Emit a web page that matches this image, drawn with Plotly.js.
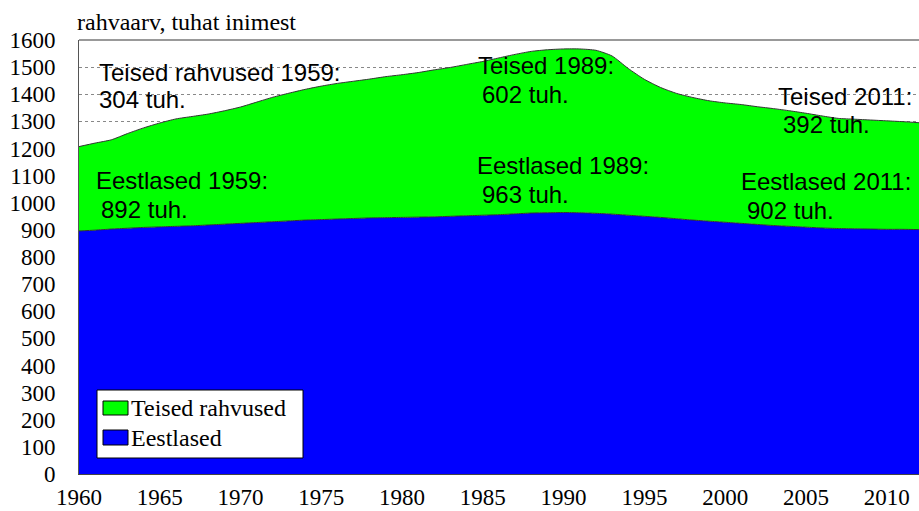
<!DOCTYPE html>
<html>
<head>
<meta charset="utf-8">
<script src="https://cdn.plot.ly/plotly-3.0.1.min.js"></script>
<style>html,body{margin:0;padding:0;background:#fff;}#chart{width:919px;height:511px;}</style>
</head>
<body>
<div id="chart"></div>
<script>
var years = [1960,1961,1962,1963,1964,1965,1966,1967,1968,1969,1970,1971,1972,1973,1974,1975,1976,1977,1978,1979,1980,1981,1982,1983,1984,1985,1986,1987,1988,1989,1990,1991,1992,1993,1994,1995,1996,1997,1998,1999,2000,2001,2002,2003,2004,2005,2006,2007,2008,2009,2010,2011,2012];
var eestlased = [896,899,903,906,909,911,913,915,918,921,924,927,930,933,936,938,940,942,944,945,946,947,948,950,952,954,956,959,962,963,964,963,961,958,954,950,946,941,936,932,928,924,920,916,913,910,907,905,904,903,902,902,901];
var teised = [311,321,329,349,367,383,396,403,409,418,429,444,459,471,482,492,500,506,512,520,526,533,542,549,558,567,578,588,596,601,603,604,601,583,541,505,479,462,452,444,440,438,434,431,426,420,413,406,404,402,400,397,394];
var xTicks = [1960,1965,1970,1975,1980,1985,1990,1995,2000,2005,2010];
var seriesNames = ["Eestlased", "Teised rahvused"];
var yTitle = "rahvaarv, tuhat inimest";
var notes = [
  ["Teised rahvused 1959:", 97, 72],
  ["304 tuh.", 97, 100],
  ["Eestlased 1959:", 94, 180.5],
  ["892 tuh.", 99, 209.5],
  ["Teised 1989:", 476, 65],
  ["602 tuh.", 480, 95],
  ["Eestlased 1989:", 475, 165],
  ["963 tuh.", 480, 194],
  ["Teised 2011:", 776, 96.5],
  ["392 tuh.", 781, 124.5],
  ["Eestlased 2011:", 739, 181],
  ["902 tuh.", 745, 210]
];

var L = 79, T = 40, W = 840, H = 434;
function px(x){ return (x - L) / W; }
function py(y){ return (T + H - y) / H; }

var serif = "Liberation Serif, Times New Roman, serif";
var sans = "Liberation Sans, Arial, sans-serif";

var traces = [
  {x: years, y: eestlased, name: seriesNames[0], type: "scatter", mode: "lines", stackgroup: "one",
   fillcolor: "#0000FF", line: {color: "#333333", width: 1, shape: "spline", smoothing: 0.6}, showlegend: false, hoverinfo: "skip"},
  {x: years, y: teised, name: seriesNames[1], type: "scatter", mode: "lines", stackgroup: "one",
   fillcolor: "#00FF00", line: {color: "#333333", width: 1, shape: "spline", smoothing: 0.6}, showlegend: false, hoverinfo: "skip"}
];

var annotations = notes.map(function(n){
  return {text: n[0], xref: "paper", yref: "paper", x: px(n[1]), y: py(n[2]),
    xanchor: "left", yanchor: "middle", showarrow: false,
    font: {family: sans, size: 24, color: "#000"}};
});
annotations.push({text: yTitle, xref: "paper", yref: "paper", x: px(75), y: py(22),
  xanchor: "left", yanchor: "middle", showarrow: false, font: {family: serif, size: 24, color: "#000"}});
annotations.push({text: seriesNames[1], xref: "paper", yref: "paper", x: px(129), y: py(408),
  xanchor: "left", yanchor: "middle", showarrow: false, font: {family: serif, size: 24, color: "#000"}});
annotations.push({text: seriesNames[0], xref: "paper", yref: "paper", x: px(129), y: py(438),
  xanchor: "left", yanchor: "middle", showarrow: false, font: {family: serif, size: 24, color: "#000"}});

var shapes = [
  {type: "line", xref: "paper", yref: "paper", x0: 0, x1: 1, y0: 1, y1: 1, line: {color: "#999999", width: 2}},
  {type: "rect", xref: "paper", yref: "paper", x0: px(97), x1: px(303), y0: py(458), y1: py(390),
   fillcolor: "#FFFFFF", line: {color: "#000000", width: 1}},
  {type: "rect", xref: "paper", yref: "paper", x0: px(103), x1: px(128), y0: py(415), y1: py(401),
   fillcolor: "#00FF00", line: {color: "#000000", width: 1}},
  {type: "rect", xref: "paper", yref: "paper", x0: px(103), x1: px(128), y0: py(445), y1: py(430),
   fillcolor: "#0000FF", line: {color: "#000000", width: 1}}
];

var layout = {
  width: 919, height: 511,
  margin: {l: L, r: 0, t: T, b: 511 - T - H, pad: 0},
  paper_bgcolor: "#FFFFFF", plot_bgcolor: "#FFFFFF",
  showlegend: false,
  xaxis: {range: [1960, 2012], tickvals: xTicks, ticktext: xTicks.map(String), showgrid: false, zeroline: false,
    showline: true, linecolor: "#444444", linewidth: 1, ticks: "", ticklabelstandoff: 2,
    tickfont: {family: serif, size: 23, color: "#000"}},
  yaxis: {range: [0, 1600], dtick: 100, tick0: 0, showgrid: true, gridcolor: "#888888", gridwidth: 1, griddash: "dot",
    zeroline: false, showline: true, linecolor: "#555555", linewidth: 1, ticks: "", ticklabelstandoff: 18,
    tickfont: {family: serif, size: 23, color: "#000"}},
  shapes: shapes,
  annotations: annotations
};

Plotly.newPlot("chart", traces, layout, {staticPlot: true, displayModeBar: false});
</script>
</body>
</html>
